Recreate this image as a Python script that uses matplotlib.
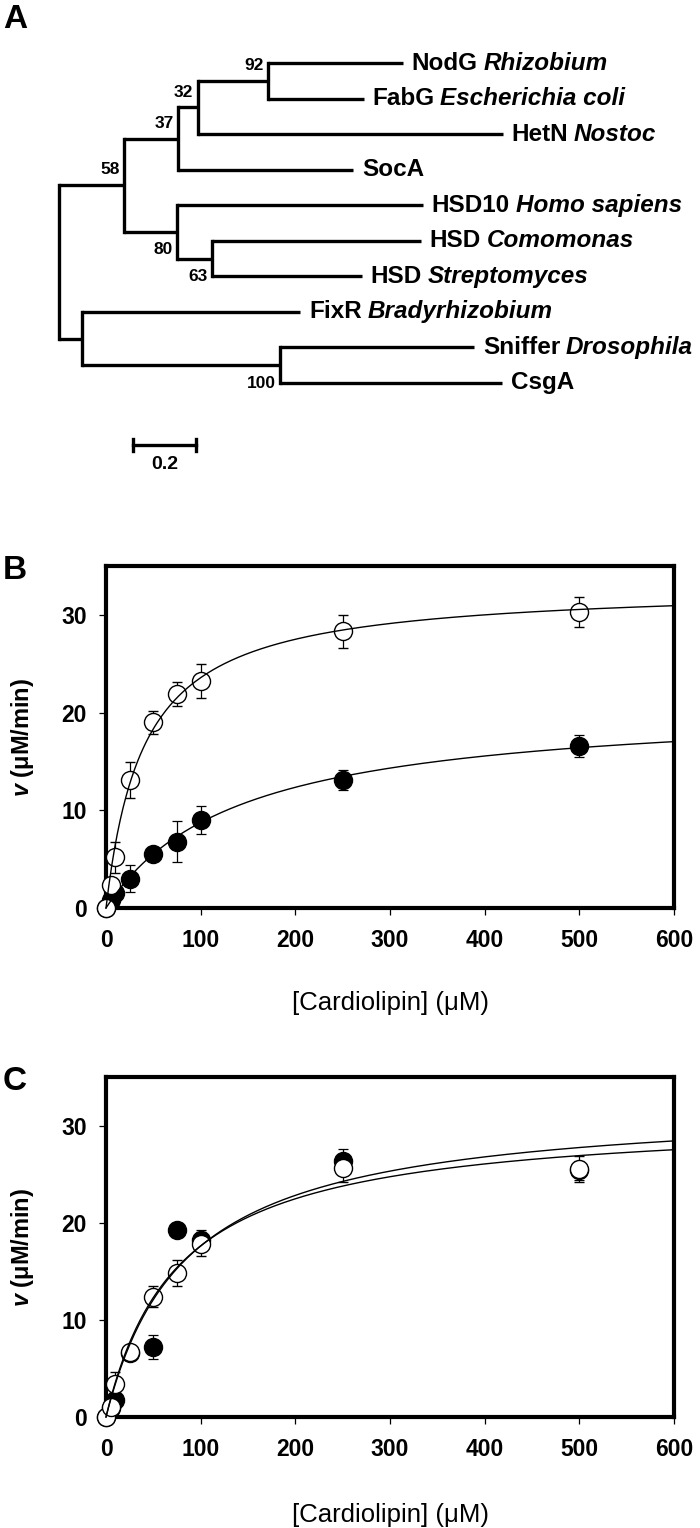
import numpy as np
import matplotlib
matplotlib.use('Agg')
import matplotlib.pyplot as plt

plt.rcParams['font.family'] = ['Liberation Sans', 'DejaVu Sans']
plt.rcParams['mathtext.fontset'] = 'custom'
plt.rcParams['mathtext.it'] = 'Liberation Sans:italic:bold'
plt.rcParams['mathtext.rm'] = 'Liberation Sans:bold'

# ---------------- data ----------------
# Panel A: leaves, top to bottom
leaf_names = ['NodG', 'FabG', 'HetN', 'SocA', 'HSD10', 'HSD', 'HSD',
              'FixR', 'Sniffer', 'CsgA']
leaf_species = ['Rhizobium', 'Escherichia coli', 'Nostoc', '', 'Homo sapiens',
                'Comomonas', 'Streptomyces', 'Bradyrhizobium', 'Drosophila', '']

# tree: (name, branch length, bootstrap, children) ; leaves are (index, branch length)
tree = ('root', 0.0, None, [
    ('n58', 0.206, '58', [
        ('n37', 0.171, '37', [
            ('n32', 0.063, '32', [
                ('n92', 0.222, '92', [(0, 0.429), (1, 0.305)]),
                (2, 0.968)]),
            (3, 0.556)]),
        ('n80', 0.168, '80', [
            (4, 0.781),
            ('n63', 0.111, '63', [(5, 0.663), (6, 0.476)])])]),
    ('nF', 0.073, None, [
        (7, 0.692),
        ('n100', 0.629, '100', [(8, 0.616), (9, 0.705)])])])
boot_below = ['80', '63', '100']
scale_len = 0.2

# Panels B and C: [cardiolipin] (uM)
conc = [0, 5, 10, 25, 50, 75, 100, 250, 500]

b_open = [0, 2.4, 5.2, 13.1, 19.0, 21.9, 23.2, 28.3, 30.3]
b_open_err = [0, 0.6, 1.6, 1.8, 1.2, 1.2, 1.75, 1.7, 1.5]
b_filled = [0, 0.8, 1.5, 3.0, 5.5, 6.8, 9.0, 13.1, 16.6]
b_filled_err = [0, 0.3, 0.5, 1.4, 0.4, 2.1, 1.4, 1.0, 1.1]
b_fit_open = (33.0, 40.0)      # Vmax, Km
b_fit_filled = (21.0, 140.0)

c_open = [0, 1.0, 3.4, 6.7, 12.4, 14.8, 17.8, 25.6, 25.5]
c_open_err = [0, 0.5, 1.2, 0.4, 1.1, 1.35, 1.2, 1.4, 1.35]
c_filled = [0, 0.9, 1.8, 6.6, 7.2, 19.3, 18.2, 26.4, 25.4]
c_filled_err = [0, 0.3, 0.4, 0.3, 1.2, 0.7, 1.0, 1.2, 1.0]
c_fit_open = (32.4, 84.0)
c_fit_filled = (31.0, 76.0)

x_ticks = [0, 100, 200, 300, 400, 500, 600]
y_ticks = [0, 10, 20, 30]

# ---------------- figure ----------------
W, H = 700, 1528
fig = plt.figure(figsize=(W / 100, H / 100), dpi=100)

# ---- panel A ----
px_unit = 315.0     # pixels per unit branch length
root_px = 59.0
leaf0_px, leaf_step = 63.0, 35.55
top_h = 490.0
axA = fig.add_axes([0, 1 - top_h / H, 1, top_h / H])
axA.set_xlim(-root_px / px_unit, (W - root_px) / px_unit)
axA.set_ylim((top_h - leaf0_px) / leaf_step, -leaf0_px / leaf_step)
axA.axis('off')
lw_tree = 2.4
fs_leaf = 17.5


def draw(node, x0):
    # draws the subtree of node (node sits at x0), returns its y
    name, bl, boot, kids = node
    ys = []
    for k in kids:
        if isinstance(k[0], int):
            idx, kbl = k
            x1 = x0 + kbl
            axA.plot([x0, x1], [idx, idx], color='black', lw=lw_tree,
                     solid_capstyle='butt')
            t1 = axA.annotate(leaf_names[idx], (x1, idx), xytext=(6.5, 0),
                              textcoords='offset points', va='center',
                              ha='left', fontsize=fs_leaf, fontweight='bold')
            if leaf_species[idx]:
                axA.annotate(leaf_species[idx], xy=(1, 0.5), xycoords=t1,
                             xytext=(4, 0), textcoords='offset points',
                             va='center', ha='left', fontsize=fs_leaf,
                             fontweight='bold', style='italic')
            ys.append(idx)
        else:
            x1 = x0 + k[1]
            yk = draw(k, x1)
            axA.plot([x0, x1], [yk, yk], color='black', lw=lw_tree,
                     solid_capstyle='butt')
            ys.append(yk)
    axA.plot([x0, x0], [min(ys), max(ys)], color='black', lw=lw_tree,
             solid_capstyle='projecting')
    y = (min(ys) + max(ys)) / 2
    if boot:
        dy = -13 if boot in boot_below else 11
        axA.annotate(boot, (x0, y), xytext=(-3, dy), textcoords='offset points',
                     ha='right', va='center', fontsize=12.5, fontweight='bold')
    return y


draw(tree, 0.0)

sb_x = (133 - root_px) / px_unit
sb_y = (445 - leaf0_px) / leaf_step
axA.plot([sb_x, sb_x + scale_len], [sb_y, sb_y], color='black', lw=2.4)
for xx in (sb_x, sb_x + scale_len):
    axA.plot([xx, xx], [sb_y - 0.17, sb_y + 0.17], color='black', lw=2.4)
axA.text(sb_x + scale_len / 2, sb_y + 0.56, '0.2', ha='center', va='center',
         fontsize=14, fontweight='bold')

fig.text(3 / W, 1 - 20 / H, 'A', fontsize=24, fontweight='bold',
         ha='left', va='center')


# ---- panels B and C ----
def mm(vmax, km, s):
    return vmax * s / (km + s)


def kinetics(top_px, bot_px, opn, opn_err, fil, fil_err, fits, letter, xlab_px):
    ax = fig.add_axes([106 / W, 1 - bot_px / H, (674 - 106) / W,
                       (bot_px - top_px) / H])
    ax.errorbar(conc, fil, yerr=fil_err, fmt='o', ms=13, mfc='black',
                mec='black', ecolor='black', elinewidth=0.9, capsize=3.5,
                capthick=0.9, zorder=2)
    ax.errorbar(conc, opn, yerr=opn_err, fmt='o', ms=13, mfc='white',
                mec='black', mew=1.0, ecolor='black', elinewidth=0.9,
                capsize=3.5, capthick=0.9, zorder=3)
    s = np.linspace(0, 600, 400)
    for vmax, km in fits:
        ax.plot(s, mm(vmax, km, s), color='black', lw=1.0, zorder=4)
    ax.set_xlim(0, 600)
    ax.set_ylim(0, 35)
    ax.set_xticks(x_ticks)
    ax.set_yticks(y_ticks)
    for sp in ax.spines.values():
        sp.set_linewidth(3)
    ax.tick_params(direction='out', length=5, width=0.9, labelsize=16.5,
                   top=False, right=False)
    ax.tick_params(axis='x', pad=10)
    ax.tick_params(axis='y', pad=9)
    for lab in ax.get_xticklabels() + ax.get_yticklabels():
        lab.set_fontweight('bold')
    for c in ax.get_children():
        c.set_clip_on(False)
    fig.text(3 / W, 1 - (top_px + 4) / H, letter, fontsize=24,
             fontweight='bold', ha='left', va='center')
    fig.text(22 / W, 1 - (top_px + bot_px) / 2 / H, r'$v$ (μM/min)',
             rotation=90, fontsize=17, fontweight='bold', ha='center',
             va='center')
    fig.text(390 / W, 1 - xlab_px / H, '[Cardiolipin] (μM)', fontsize=18.5,
             ha='center', va='center')
    return ax


kinetics(566, 908, b_open, b_open_err, b_filled, b_filled_err,
         [b_fit_open, b_fit_filled], 'B', 1003)
kinetics(1077, 1417, c_open, c_open_err, c_filled, c_filled_err,
         [c_fit_open, c_fit_filled], 'C', 1515)

fig.savefig('out.png', dpi=100)
